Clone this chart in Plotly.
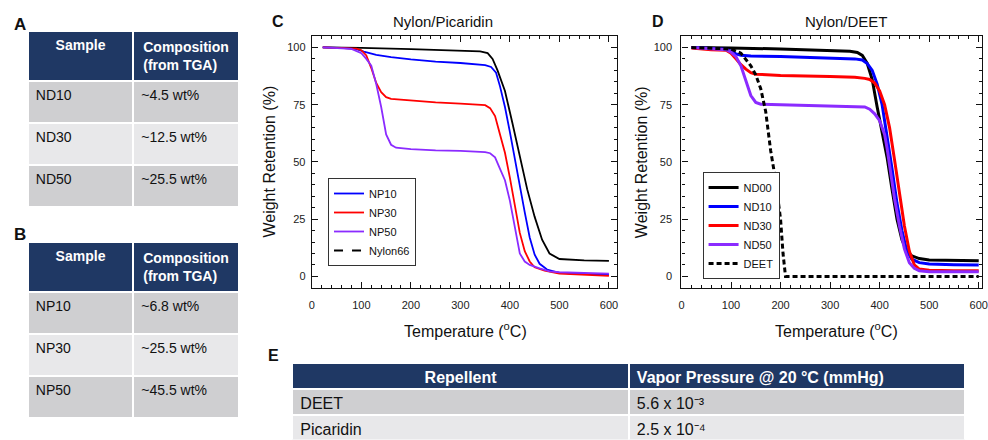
import plotly.graph_objects as go

W, H = 988, 440
FONT = "Arial, 'Liberation Sans', sans-serif"

# ---------------- Table data ----------------
tabA_header = ["Sample", "Composition<br>(from TGA)"]
tabA_samples = ["ND10", "ND30", "ND50"]
tabA_comp = ["~4.5 wt%", "~12.5 wt%", "~25.5 wt%"]

tabB_header = ["Sample", "Composition<br>(from TGA)"]
tabB_samples = ["NP10", "NP30", "NP50"]
tabB_comp = ["~6.8 wt%", "~25.5 wt%", "~45.5 wt%"]

tabE_header = ["Repellent", "Vapor Pressure @ 20 °C (mmHg)"]
tabE_repellent = ["DEET", "Picaridin"]
tabE_vapor = ["5.6 x 10⁻³", "2.5 x 10⁻⁴"]

# ---------------- Panel C: Nylon/Picaridin ----------------
nylon66_T = [22, 50, 100, 200, 300, 340, 355, 365, 375, 390, 405, 420, 435, 450, 465, 480, 500, 550, 600]
nylon66_W = [100, 100, 99.8, 99.3, 98.8, 98.3, 97.5, 95, 90, 81, 67, 52, 38, 26, 16, 10, 7.6, 7.0, 6.8]

np10_T = [22, 60, 90, 105, 130, 160, 200, 250, 300, 350, 362, 372, 380, 390, 400, 410, 420, 430, 440, 450, 460, 475, 500, 550, 600]
np10_W = [100, 99.8, 99.3, 98.2, 96.8, 95.8, 94.8, 93.8, 93.2, 92.3, 91.5, 89, 83, 74, 63, 51, 39, 28, 17, 9.5, 5.5, 3, 1.5, 1, 0.7]

np30_T = [22, 90, 100, 110, 120, 130, 140, 150, 160, 200, 250, 300, 350, 360, 370, 380, 390, 400, 410, 420, 430, 440, 450, 470, 500, 550, 600]
np30_W = [100, 99.5, 98.8, 96.5, 91, 84.5, 80.5, 78.3, 77.5, 76.8, 76, 75.5, 74.8, 73.5, 70, 62, 54, 43, 31, 19, 11, 6.5, 4, 2.5, 1.2, 0.6, 0.2]

np50_T = [22, 80, 100, 110, 120, 130, 140, 150, 160, 170, 200, 250, 300, 350, 360, 370, 380, 390, 400, 410, 420, 430, 440, 460, 480, 500, 550, 600]
np50_W = [100, 99.4, 97.5, 95, 92, 84, 74, 62, 57.5, 56.2, 55.6, 55, 54.8, 54.3, 53.8, 52, 47, 42, 33, 22, 10, 6.5, 5, 3.5, 2.2, 1.8, 1.4, 1.2]

# ---------------- Panel D: Nylon/DEET ----------------
nd00_T = [20, 50, 100, 200, 300, 340, 355, 365, 375, 385, 395, 405, 415, 425, 435, 445, 455, 465, 480, 500, 550, 600]
nd00_W = [100, 100, 99.8, 99.3, 98.8, 98.3, 97.8, 96.5, 93, 86, 74, 63, 52, 38, 25, 16, 11, 9, 7.8, 7.2, 7.0, 6.8]

nd10_T = [20, 60, 90, 100, 110, 120, 140, 200, 300, 350, 365, 375, 385, 395, 405, 415, 425, 435, 445, 455, 465, 480, 500, 550, 600]
nd10_W = [100, 99.7, 99.2, 98.3, 97.2, 96.6, 96.3, 96, 95.5, 95, 94.5, 93, 90, 84, 75, 62, 47, 32, 20, 11, 7.5, 6, 5.4, 5.1, 5]

nd30_T = [20, 60, 90, 100, 110, 120, 130, 140, 150, 170, 200, 300, 350, 370, 380, 390, 400, 410, 420, 430, 440, 450, 460, 470, 480, 500, 550, 600]
nd30_W = [99.8, 99, 98.8, 97.5, 95, 92.5, 90.5, 89, 88.3, 88, 87.8, 87.3, 87, 86.5, 86, 84.5, 81, 75, 65, 51, 36, 22, 11, 5, 3.2, 2.7, 2.5, 2.5]

nd50_T = [20, 60, 90, 100, 110, 120, 130, 140, 150, 160, 200, 300, 350, 370, 380, 390, 400, 410, 415, 420, 430, 440, 450, 460, 470, 480, 500, 600]
nd50_W = [100, 99.5, 99, 98, 96, 92, 85, 79, 76, 75.2, 75, 74.5, 74.3, 74, 73, 71, 68, 62, 56, 48, 34, 22, 12, 6, 3.5, 2.5, 2, 2]

deet_T = [20, 60, 100, 120, 140, 150, 160, 170, 180, 190, 200, 205, 210, 250, 600]
deet_W = [100, 99.8, 99.3, 97.5, 92, 88, 82, 72, 55, 42, 25, 10, 0, 0, 0]

x_ticks = [0, 100, 200, 300, 400, 500, 600]
y_ticks = [0, 25, 50, 75, 100]

NAVY = "#1f3864"
DARK = "#cfcfd1"
LIGHT = "#e8e8ea"
BLUE, RED, PURPLE, BLACK = "#0000ff", "#ff0000", "#8b2bff", "#000000"


def px(x):
    return x / W


def py(y):
    return 1 - y / H


fig = go.Figure()


def sample_table(header, col1, col2, top, bottom):
    fig.add_trace(go.Table(
        domain=dict(x=[px(25), px(238)], y=[py(bottom), py(top)]),
        columnwidth=[1, 1],
        header=dict(values=header, fill_color=NAVY,
                    line=dict(color="white", width=2), align="center",
                    font=dict(family=FONT, size=14, color="white", weight="bold"), height=46),
        cells=dict(values=[col1, col2],
                   fill_color=[[DARK, LIGHT, DARK]] * 2,
                   line=dict(color="white", width=2), align="left",
                   font=dict(family=FONT, size=14, color="#111"), height=42),
    ))


sample_table(tabA_header, tabA_samples, tabA_comp, 31, 209)
sample_table(tabB_header, tabB_samples, tabB_comp, 242, 420)

fig.add_trace(go.Table(
    domain=dict(x=[px(292), px(972)], y=[0, py(362.5)]),
    columnwidth=[1, 1],
    header=dict(values=tabE_header, fill_color=NAVY,
                line=dict(color="white", width=2), align=["center", "left"],
                font=dict(family=FONT, size=16, color="white", weight="bold"), height=26),
    cells=dict(values=[tabE_repellent, tabE_vapor],
               fill_color=[[DARK, LIGHT]] * 2,
               line=dict(color="white", width=2), align="left",
               font=dict(family=FONT, size=16, color="#111"), height=26),
))

# Panel C traces
fig.add_trace(go.Scatter(x=nylon66_T, y=nylon66_W, mode="lines", line=dict(color=BLACK, width=1.8),
                         showlegend=False, xaxis="x", yaxis="y"))
for name, T, Wt, c in [("NP10", np10_T, np10_W, BLUE), ("NP30", np30_T, np30_W, RED),
                       ("NP50", np50_T, np50_W, PURPLE)]:
    fig.add_trace(go.Scatter(x=T, y=Wt, mode="lines", name=name, line=dict(color=c, width=1.8),
                             xaxis="x", yaxis="y", legend="legend"))
fig.add_trace(go.Scatter(x=[None], y=[None], mode="lines", name="Nylon66",
                         line=dict(color=BLACK, width=1.8, dash="dash"),
                         xaxis="x", yaxis="y", legend="legend"))

# Panel D traces
for name, T, Wt, c in [("ND00", nd00_T, nd00_W, BLACK), ("ND10", nd10_T, nd10_W, BLUE),
                       ("ND30", nd30_T, nd30_W, RED), ("ND50", nd50_T, nd50_W, PURPLE)]:
    fig.add_trace(go.Scatter(x=T, y=Wt, mode="lines", name=name, line=dict(color=c, width=3),
                             xaxis="x2", yaxis="y2", legend="legend2"))
fig.add_trace(go.Scatter(x=deet_T, y=deet_W, mode="lines", name="DEET",
                         line=dict(color=BLACK, width=3, dash="5px,3px"),
                         xaxis="x2", yaxis="y2", legend="legend2"))

axis_common = dict(showline=True, linecolor="#111", linewidth=1.3, mirror="allticks",
                   ticks="inside", ticklen=6, tickwidth=1.2, tickcolor="#111",
                   showgrid=False, zeroline=False,
                   tickfont=dict(family=FONT, size=11, color="#222"))
xminor = dict(dtick=20, ticks="inside", ticklen=3, tickwidth=1, tickcolor="#111", showgrid=False)
yminor = dict(dtick=5, ticks="inside", ticklen=3, tickwidth=1, tickcolor="#111", showgrid=False)

fig.update_layout(
    width=W, height=H, margin=dict(l=0, r=0, t=0, b=0),
    paper_bgcolor="white", plot_bgcolor="white",
    font=dict(family=FONT, color="#111"),
    xaxis=dict(domain=[px(311.7), px(620)], range=[0, 617], tickvals=x_ticks,
               minor=xminor, anchor="y", ticklabelstandoff=6, **axis_common),
    yaxis=dict(domain=[py(288.3), py(36)], range=[-5.2, 105], tickvals=y_ticks,
               minor=yminor, anchor="x", ticklabelstandoff=3, **axis_common),
    xaxis2=dict(domain=[px(684.7), 1.0], range=[0, 606.6], tickvals=x_ticks,
                minor=xminor, anchor="y2", ticklabelstandoff=6,
                ticklabeloverflow="allow", **axis_common),
    yaxis2=dict(domain=[py(288.3), py(36)], range=[-5.2, 105], tickvals=y_ticks,
                minor=yminor, anchor="x2", ticklabelstandoff=6, **axis_common),
    legend=dict(x=px(328), y=py(266), xanchor="left", yanchor="bottom",
                bordercolor="#333", borderwidth=1, bgcolor="white",
                font=dict(family=FONT, size=11, color="#111"), tracegroupgap=0,
                itemwidth=30),
    legend2=dict(x=px(706), y=py(279), xanchor="left", yanchor="bottom",
                 bordercolor="#333", borderwidth=1, bgcolor="white",
                 font=dict(family=FONT, size=11, color="#111"), tracegroupgap=0,
                 itemwidth=30),
)

annos = [
    ("<b>A</b>", 17, 24, 17), ("<b>B</b>", 17, 234, 17), ("<b>C</b>", 278, 21, 16),
    ("<b>D</b>", 661, 21, 16), ("<b>E</b>", 273, 355, 16),
    ("Nylon/Picaridin", 444, 21, 15), ("Nylon/DEET", 851, 21, 15),
    ("Temperature (<sup>o</sup>C)", 467, 330, 16), ("Temperature (<sup>o</sup>C)", 841, 330, 16),
]
for text, x, y, s in annos:
    fig.add_annotation(text=text, x=px(x), y=py(y), xref="paper", yref="paper",
                       showarrow=False, xanchor="center", yanchor="middle",
                       font=dict(family=FONT, size=s, color="#111"))
for x in (268, 644):
    fig.add_annotation(text="Weight Retention (%)", x=px(x), y=py(162), xref="paper", yref="paper",
                       showarrow=False, textangle=-90, xanchor="center", yanchor="middle",
                       font=dict(family=FONT, size=16, color="#111"))

fig.write_html("out.html")
